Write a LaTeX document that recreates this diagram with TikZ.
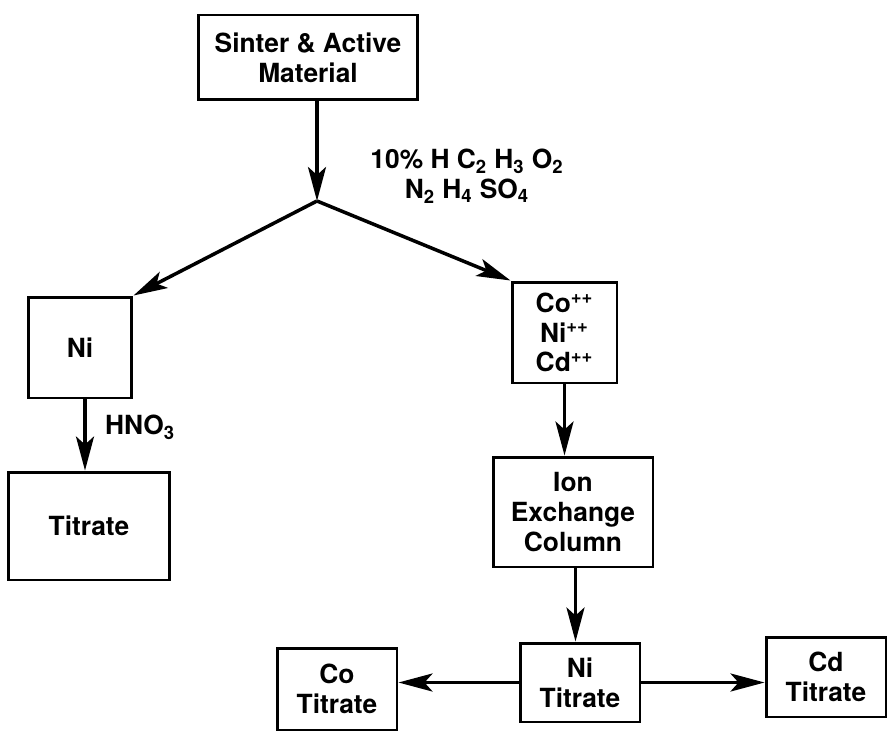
\documentclass[tikz,border=0pt]{standalone}
\usepackage{fontspec}
\setmainfont{TeX Gyre Heros}
\usepackage{tikz}
\usetikzlibrary{arrows.meta, positioning, calc}

\begin{document}
\begin{tikzpicture}[
  x=0.02cm, y=-0.02cm,
  every node/.style={font=\fontsize{15}{17}\selectfont\bfseries, align=center},
  box/.style={draw, line width=1.7pt, rectangle, inner sep=0},
  arr/.style={-{Stealth[length=0.68cm, width=0.36cm, inset=0.16cm]}, line width=2pt},
  lbl/.style={inner sep=0},
]
\useasboundingbox (0,0) rectangle (888,733);

% Source
\node[box, minimum width=4.4cm, minimum height=1.7cm] (src) at (308,57.5) {Sinter \& Active\\Material};
\coordinate (split) at (317,201);

% Left branch
\node[box, minimum width=2.08cm, minimum height=2.02cm] (ni) at (80,347.5) {Ni};
\node[box, minimum width=3.24cm, minimum height=2.16cm] (titr) at (89,526) {Titrate};

% Right branch
\node[box, minimum width=2.1cm, minimum height=2.02cm] (ions) at (564.5,332.5) {Co\textsuperscript{++}\\Ni\textsuperscript{++}\\Cd\textsuperscript{++}};
\node[box, minimum width=3.2cm, minimum height=2.2cm] (column) at (573,512) {Ion\\Exchange\\Column};
\node[box, minimum width=2.4cm, minimum height=1.58cm] (niT) at (580,682.5) {Ni\\Titrate};
\node[box, minimum width=2.4cm, minimum height=1.64cm] (coT) at (337,689) {Co\\Titrate};
\node[box, minimum width=2.4cm, minimum height=1.6cm] (cdT) at (826,677) {Cd\\Titrate};

% Reagents
\node[lbl] (acid) at (467,176) {10\% H C\textsubscript{2} H\textsubscript{3} O\textsubscript{2}\\N\textsubscript{2} H\textsubscript{4} SO\textsubscript{4}};
\node[lbl] (nitric) at (140,427) {HNO\textsubscript{3}};

% Connectors
\draw[arr] (src.south -| split) -- (split);
\draw[arr] (split) -- (ni.north east);
\draw[arr] (split) -- (ions.north west);
\draw[arr] ([xshift=0.1cm]ni.south) -- ([xshift=0.1cm]titr.north -| ni.south);
\draw[arr] (ions.south) -- (column.north -| ions.south);
\draw[arr] ([xshift=0.05cm]column.south) -- ([xshift=0.05cm]niT.north -| column.south);
\draw[arr] (niT.west) -- (coT.east |- niT.west);
\draw[arr] (niT.east) -- (cdT.west |- niT.east);

\end{tikzpicture}
\end{document}
